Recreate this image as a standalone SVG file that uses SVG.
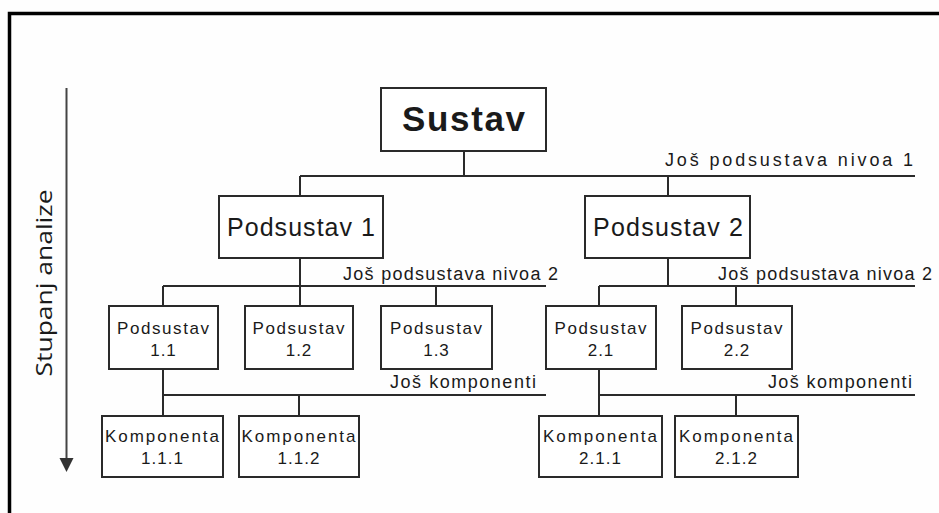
<svg xmlns="http://www.w3.org/2000/svg" width="939" height="513" viewBox="0 0 939 513">
<style>
.box{fill:#fff;stroke:#2a2a2a;stroke-width:2}
.ln{stroke:#2a2a2a;stroke-width:2;fill:none}
text{font-family:"Liberation Sans",Arial,sans-serif;fill:#1a1a1a;text-anchor:middle}
.big{font-size:35px;font-weight:bold}
.mid{font-size:25px}
.sm{font-size:17px;letter-spacing:1px}
.lbl{font-size:18px;text-anchor:end}
.axis{font-family:"Open Sans","Liberation Sans",sans-serif;font-size:22px}
</style>
<rect x="0" y="0" width="939" height="513" fill="#fefefe"/>
<path d="M9.5,520 L9.5,13.5 L945,13.5" fill="none" stroke="#000" stroke-width="3.5"/>

<g id="axis">
<line x1="66.5" y1="88" x2="66.5" y2="458" stroke="#444" stroke-width="2"/>
<path d="M59.5,458 L73.5,458 L66.5,472 Z" fill="#333"/>
<text class="axis" transform="translate(52,283) rotate(-90)" textLength="187" lengthAdjust="spacingAndGlyphs">Stupanj analize</text>
</g>

<g id="connectors">
<path class="ln" d="M464,151 V176 M300,176 H915 M300,176 V196 M668,176 V196"/>
<path class="ln" d="M300,258 V306 M163,286 H546 M163,286 V306 M436,286 V306"/>
<path class="ln" d="M668,258 V286 M599,286 H915 M599,286 V306 M736,286 V306"/>
<path class="ln" d="M163,369 V416 M163,395 H546 M299,395 V416"/>
<path class="ln" d="M599,369 V416 M599,395 H915 M736,395 V416"/>
</g>

<g id="labels">
<text class="lbl" x="913" y="166" textLength="248" lengthAdjust="spacing">Još podsustava nivoa 1</text>
<text class="lbl" x="558" y="280" textLength="215" lengthAdjust="spacing">Još podsustava nivoa 2</text>
<text class="lbl" x="932" y="280" textLength="214" lengthAdjust="spacing">Još podsustava nivoa 2</text>
<text class="lbl" x="536" y="388" textLength="146" lengthAdjust="spacing">Još komponenti</text>
<text class="lbl" x="912" y="388" textLength="144" lengthAdjust="spacing">Još komponenti</text>
</g>

<g id="sustav">
<rect class="box" x="381" y="88" width="165" height="63"/>
<text class="big" x="463.5" y="131" textLength="123" lengthAdjust="spacing">Sustav</text>
</g>
<g id="podsustav1">
<rect class="box" x="219" y="196" width="164" height="62"/>
<text class="mid" x="301" y="236" textLength="148" lengthAdjust="spacing">Podsustav 1</text>
</g>
<g id="podsustav2">
<rect class="box" x="585" y="196" width="165" height="62"/>
<text class="mid" x="668" y="236" textLength="150" lengthAdjust="spacing">Podsustav 2</text>
</g>

<g id="podsustav11">
<rect class="box" x="109" y="306" width="109" height="63"/>
<text class="sm" x="163.5" y="334" textLength="93" lengthAdjust="spacing">Podsustav</text>
<text class="sm" x="163.5" y="356">1.1</text>
</g>
<g id="podsustav12">
<rect class="box" x="245" y="306" width="108" height="63"/>
<text class="sm" x="299" y="334" textLength="93" lengthAdjust="spacing">Podsustav</text>
<text class="sm" x="299" y="356">1.2</text>
</g>
<g id="podsustav13">
<rect class="box" x="381" y="306" width="111" height="63"/>
<text class="sm" x="436.5" y="334" textLength="93" lengthAdjust="spacing">Podsustav</text>
<text class="sm" x="436.5" y="356">1.3</text>
</g>
<g id="podsustav21">
<rect class="box" x="546" y="306" width="110" height="63"/>
<text class="sm" x="601" y="334" textLength="93" lengthAdjust="spacing">Podsustav</text>
<text class="sm" x="601" y="356">2.1</text>
</g>
<g id="podsustav22">
<rect class="box" x="682" y="306" width="110" height="63"/>
<text class="sm" x="737" y="334" textLength="93" lengthAdjust="spacing">Podsustav</text>
<text class="sm" x="737" y="356">2.2</text>
</g>

<g id="komponenta111">
<rect class="box" x="102" y="416" width="121" height="61"/>
<text class="sm" x="162.5" y="442" textLength="115" lengthAdjust="spacing">Komponenta</text>
<text class="sm" x="162.5" y="464">1.1.1</text>
</g>
<g id="komponenta112">
<rect class="box" x="239" y="416" width="120" height="61"/>
<text class="sm" x="299" y="442" textLength="115" lengthAdjust="spacing">Komponenta</text>
<text class="sm" x="299" y="464">1.1.2</text>
</g>
<g id="komponenta211">
<rect class="box" x="539" y="416" width="123" height="61"/>
<text class="sm" x="600.5" y="442" textLength="115" lengthAdjust="spacing">Komponenta</text>
<text class="sm" x="600.5" y="464">2.1.1</text>
</g>
<g id="komponenta212">
<rect class="box" x="675" y="416" width="123" height="61"/>
<text class="sm" x="736.5" y="442" textLength="115" lengthAdjust="spacing">Komponenta</text>
<text class="sm" x="736.5" y="464">2.1.2</text>
</g>
</svg>
